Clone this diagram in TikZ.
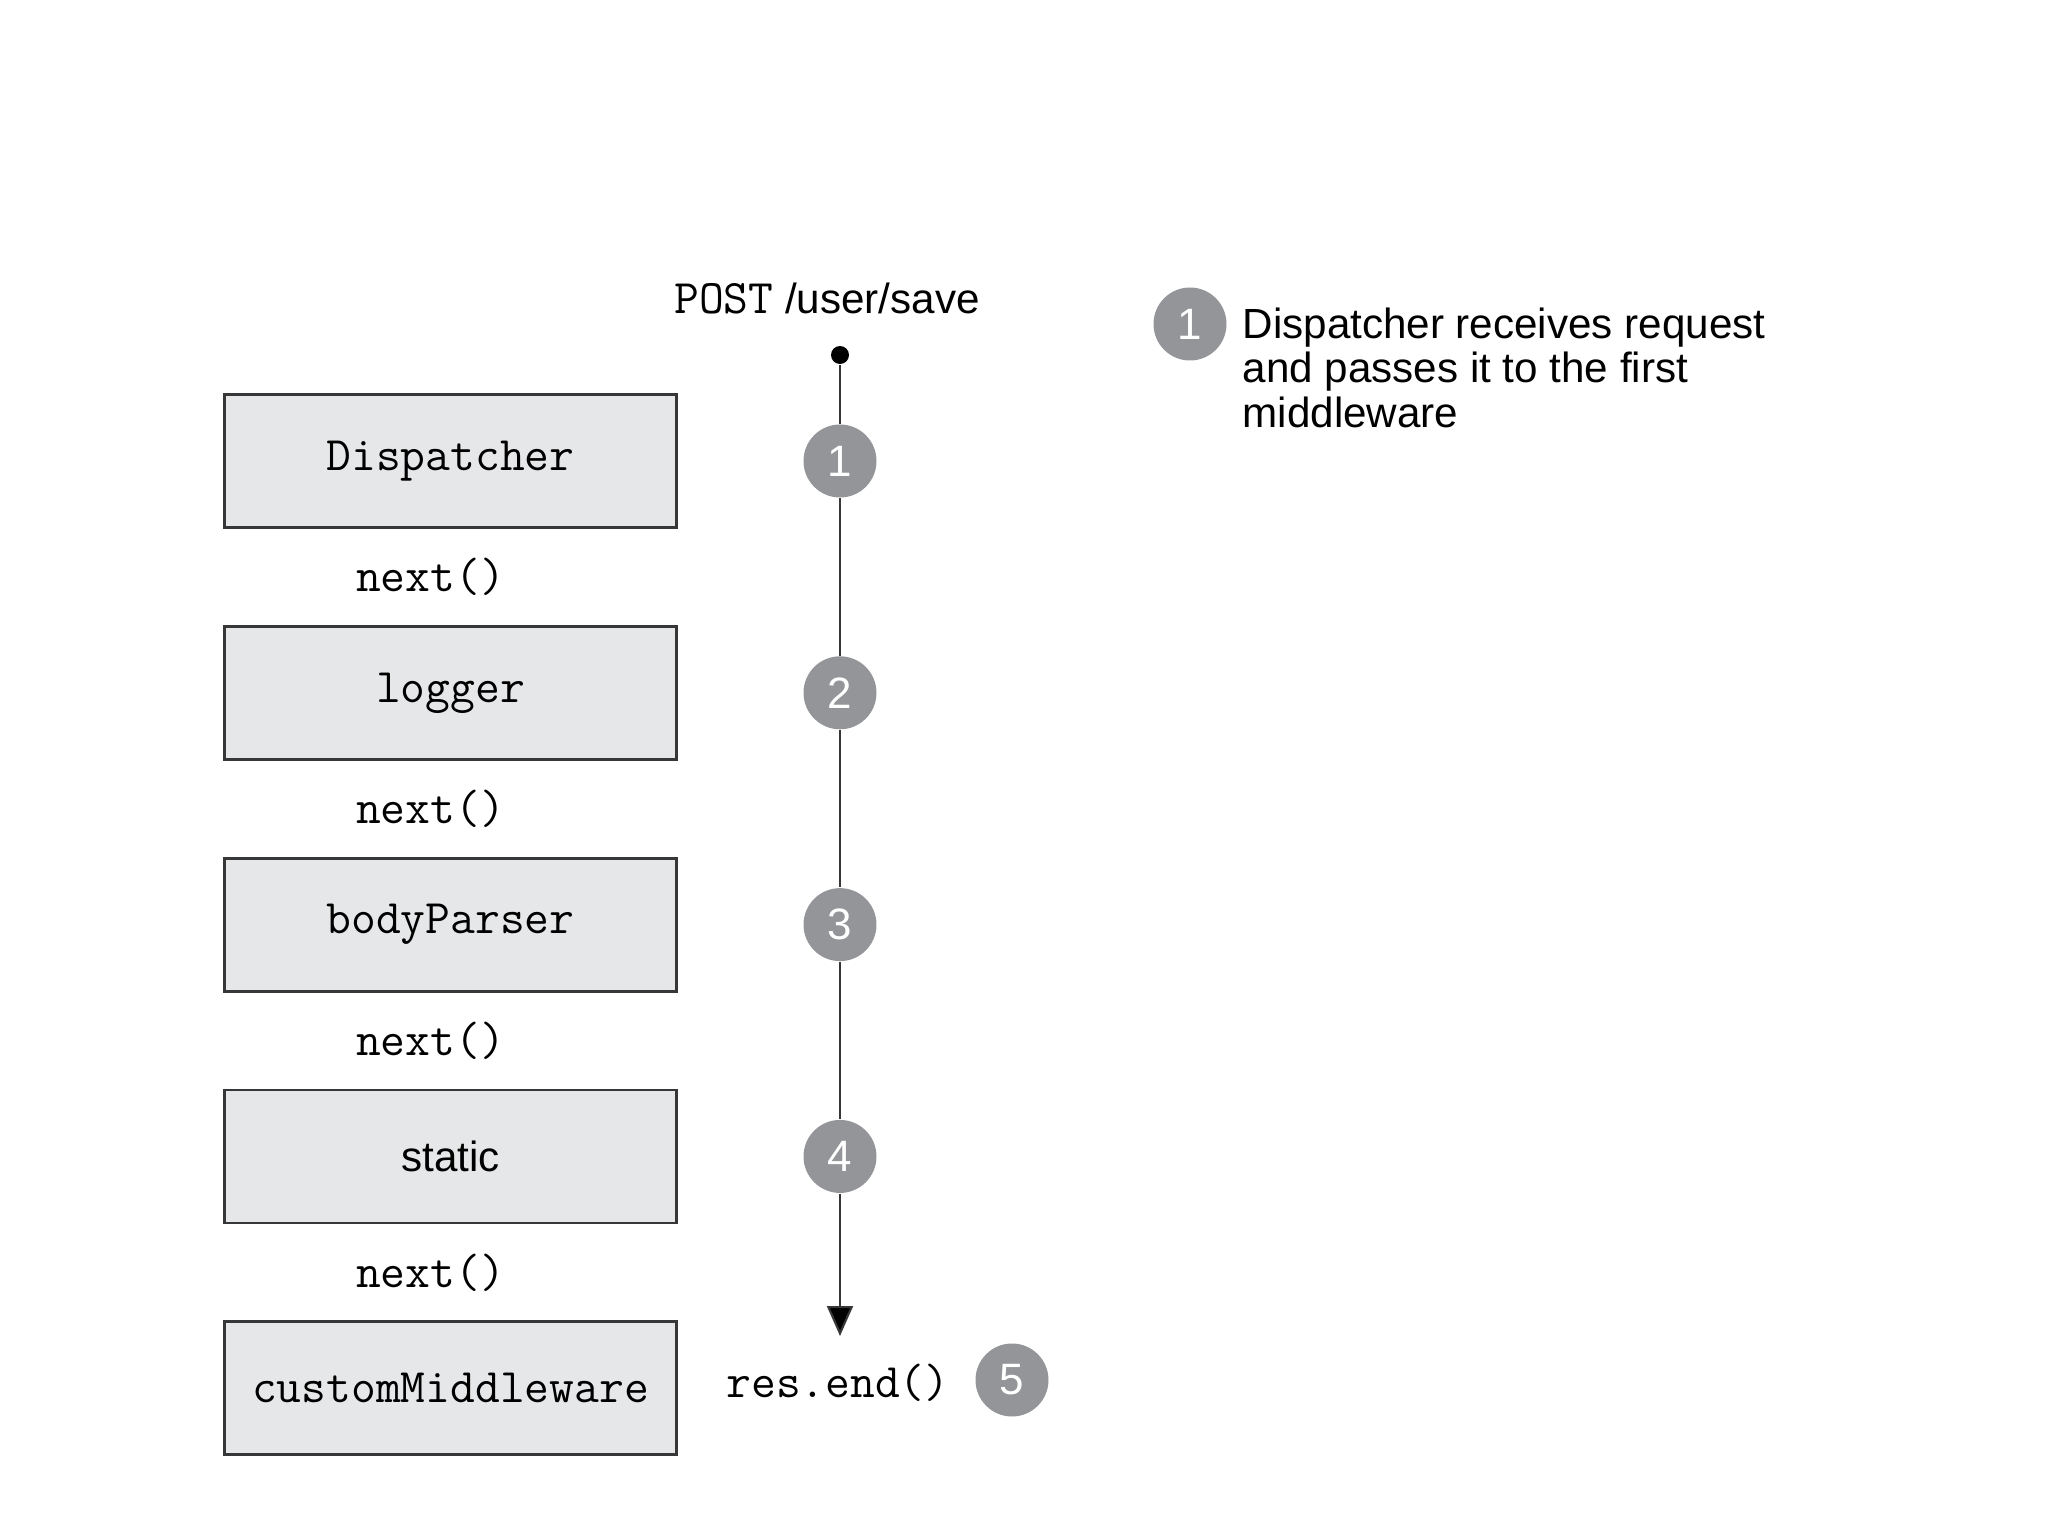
\documentclass[tikz,border=0pt]{standalone}
\usepackage{fontspec}
\setmainfont{Liberation Sans}
\usetikzlibrary{positioning, arrows.meta, calc}
\definecolor{boxgray}{RGB}{230,231,232}
\definecolor{stepgray}{RGB}{147,149,152}
\definecolor{linegray}{RGB}{55,55,55}

\begin{document}
\begin{tikzpicture}[
  mwbox/.style={draw=linegray, line width=0.8pt, fill=boxgray, minimum width=4.52cm, minimum height=1.33cm},
  stepnum/.style={circle, fill=stepgray, text=white, minimum size=0.73cm, inner sep=0pt, font=\fontsize{12.5}{14}\selectfont},
  codefont/.style={font=\fontsize{13.7}{16}\ttfamily},
  sansfont/.style={font=\fontsize{12}{14}\selectfont},
  flow/.style={draw=linegray, line width=0.6pt},
  node distance=0.96cm
]
\useasboundingbox (0,0) rectangle (20.48,-15.36);

% middleware stack
\node[mwbox, codefont] (disp) at (4.505,-4.61) {Dispatcher};
\node[mwbox, codefont, below=of disp] (logger) {logger};
\node[mwbox, codefont, below=of logger] (parser) {bodyParser};
\node[mwbox, sansfont, below=of parser] (static) {static};
\node[mwbox, codefont, below=of static] (custom) {customMiddleware};

% next() calls between the boxes
\node[codefont, xshift=-0.2cm] (next1) at ($(disp)!0.5!(logger)$) {next()};
\node[codefont, xshift=-0.2cm] (next2) at ($(logger)!0.5!(parser)$) {next()};
\node[codefont, xshift=-0.2cm] (next3) at ($(parser)!0.5!(static)$) {next()};
\node[codefont, xshift=-0.2cm] (next4) at ($(static)!0.5!(custom)$) {next()};

% request flow
\node[sansfont] (req) at (8.27,-2.99) {{\fontsize{13.7}{16}\ttfamily POST} /user/save};
\node[circle, fill=black, minimum size=0.18cm, inner sep=0pt] (dot) at (8.40,-3.55) {};
\node[stepnum] (s1) at (disp -| dot) {1};
\node[stepnum] (s2) at (logger -| dot) {2};
\node[stepnum] (s3) at (parser -| dot) {3};
\node[stepnum] (s4) at (static -| dot) {4};
\coordinate (stop) at (8.40,-13.36);

\draw[flow] (dot) -- (s1);
\draw[flow] (s1) -- (s2);
\draw[flow] (s2) -- (s3);
\draw[flow] (s3) -- (s4);
\draw[flow, -{Triangle[length=0.3cm, width=0.26cm, fill=black]}] (s4) -- (stop);

\node[codefont] (resend) at (8.38,-13.83) {res.end()};
\node[stepnum] (s5) at (10.12,-13.80) {5};

% legend
\node[stepnum] (n1) at (11.90,-3.24) {1};
\node[anchor=north west, align=left, inner sep=0pt, font=\fontsize{12}{12.7}\selectfont] (note) at (12.42,-3.07) {Dispatcher receives request\\and passes it to the first\\middleware};
\end{tikzpicture}
\end{document}
